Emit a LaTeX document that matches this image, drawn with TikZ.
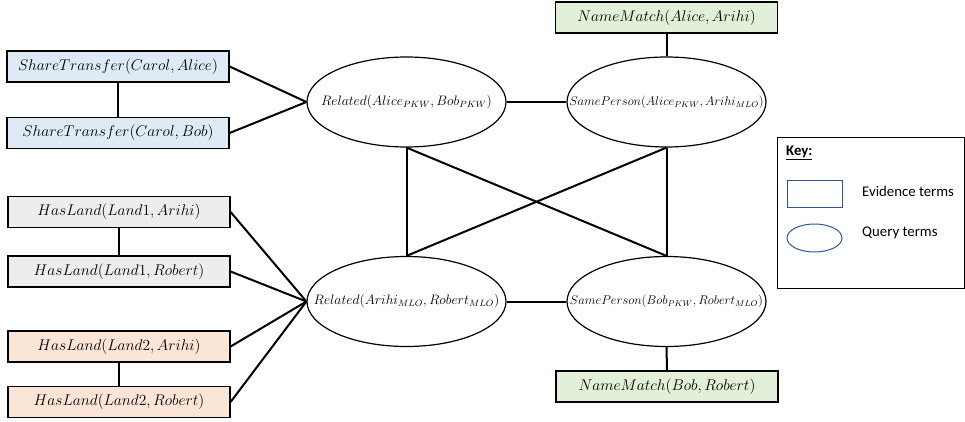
\documentclass[tikz,border=0pt]{standalone}
\usepackage{graphicx}
\usepackage{fontspec}
\newfontfamily\keyfont{Carlito}
\usetikzlibrary{shapes.geometric}
\definecolor{evblue}{RGB}{222,235,247}
\definecolor{evgray}{RGB}{237,237,237}
\definecolor{evorange}{RGB}{251,229,214}
\definecolor{evgreen}{RGB}{226,240,217}
\definecolor{keyblue}{RGB}{47,85,151}
\newcommand\evtxt[1]{\scalebox{1.076}{$#1$}}
\newcommand\reltxt[1]{\scalebox{1.14}{$#1$}}
\newcommand\sptxt[1]{\scalebox{1.05}{$#1$}}
\begin{document}
\begin{tikzpicture}[x=1pt,y=-1pt,
  ev/.style={draw, line width=1.2pt, minimum width=222pt, minimum height=31pt, inner sep=0pt, font=\fontsize{14.4}{17}\selectfont},
  qu/.style={draw, ellipse, line width=1.2pt, minimum width=199pt, minimum height=90pt, inner sep=0pt},
  qlab/.style={inner sep=0pt, font=\fontsize{12}{14}\selectfont},
  conn/.style={line width=2pt},
  keytxt/.style={anchor=west, inner sep=0pt, font=\keyfont\fontsize{14.8}{17}\selectfont}]
\useasboundingbox (0,0) rectangle (965,422);
% evidence boxes
\node[ev, fill=evblue] (st1) at (118,66.5) {\evtxt{ShareTransfer(Carol,Alice)}};
\node[ev, fill=evblue] (st2) at (118,133) {\evtxt{ShareTransfer(Carol,Bob)}};
\node[ev, fill=evgray] (hl1) at (119,212) {\evtxt{HasLand(Land1,Arihi)}};
\node[ev, fill=evgray] (hl2) at (119,271.5) {\evtxt{HasLand(Land1,Robert)}};
\node[ev, fill=evorange] (hl3) at (119,346.5) {\evtxt{HasLand(Land2,Arihi)}};
\node[ev, fill=evorange] (hl4) at (119,402) {\evtxt{HasLand(Land2,Robert)}};
\node[ev, fill=evgreen] (nm1) at (666.5,17.5) {\evtxt{NameMatch(Alice,Arihi)}};
\node[ev, fill=evgreen] (nm2) at (667,386.5) {\evtxt{NameMatch(Bob,Robert)}};
% query ellipses
\node[qu] (r1) at (406.5,102) {};
\node[qu] (sp1) at (666.5,102) {};
\node[qu] (r2) at (406.5,301.5) {};
\node[qu] (sp2) at (666.5,301.5) {};
\node[qlab] (r1t) at (r1.center) {\reltxt{Related(Alice_{PKW},Bob_{PKW})}};
\node[qlab] (sp1t) at (sp1.center) {\sptxt{SamePerson(Alice_{PKW},Arihi_{MLO})}};
\node[qlab] (r2t) at (r2.center) {\reltxt{Related(Arihi_{MLO},Robert_{MLO})}};
\node[qlab] (sp2t) at (sp2.center) {\sptxt{SamePerson(Bob_{PKW},Robert_{MLO})}};
% connectors
\draw[conn] (st1.east) -- (r1.west);
\draw[conn] (st2.east) -- (r1.west);
\draw[conn] (st1.south) -- (st2.north);
\draw[conn] (hl1.east) -- (r2.west);
\draw[conn] (hl2.east) -- (r2.west);
\draw[conn] (hl3.east) -- (r2.west);
\draw[conn] (hl4.east) -- (r2.west);
\draw[conn] (hl1.south) -- (hl2.north);
\draw[conn] (hl3.south) -- (hl4.north);
\draw[conn] (r1.east) -- (sp1.west);
\draw[conn] (r2.east) -- (sp2.west);
\draw[conn] (nm1.south) -- (sp1.north);
\draw[conn] (sp2.south) -- (nm2.north);
\draw[conn] (r1.south) -- (r2.north);
\draw[conn] (sp1.south) -- (sp2.north);
\draw[conn] (r1.south) -- (sp2.north);
\draw[conn] (sp1.south) -- (r2.north);
% key
\node[draw, line width=0.8pt, minimum width=187.5pt, minimum height=151pt, inner sep=0pt] (keybox) at (870.75,212.5) {};
\node[keytxt, font=\keyfont\fontsize{14.8}{17}\selectfont\bfseries] (keytitle) at (786,153) {\underline{Key:}};
\node[draw=keyblue, line width=1pt, minimum width=55pt, minimum height=27pt, inner sep=0pt] (keyrect) at (814.5,193.5) {};
\node[draw=keyblue, ellipse, line width=1pt, minimum width=55pt, minimum height=28pt, inner sep=0pt] (keyell) at (814.5,238) {};
\node[keytxt] (keyev) at (862,191) {Evidence terms};
\node[keytxt] (keyqu) at (862,233) {Query terms};
\end{tikzpicture}
\end{document}
